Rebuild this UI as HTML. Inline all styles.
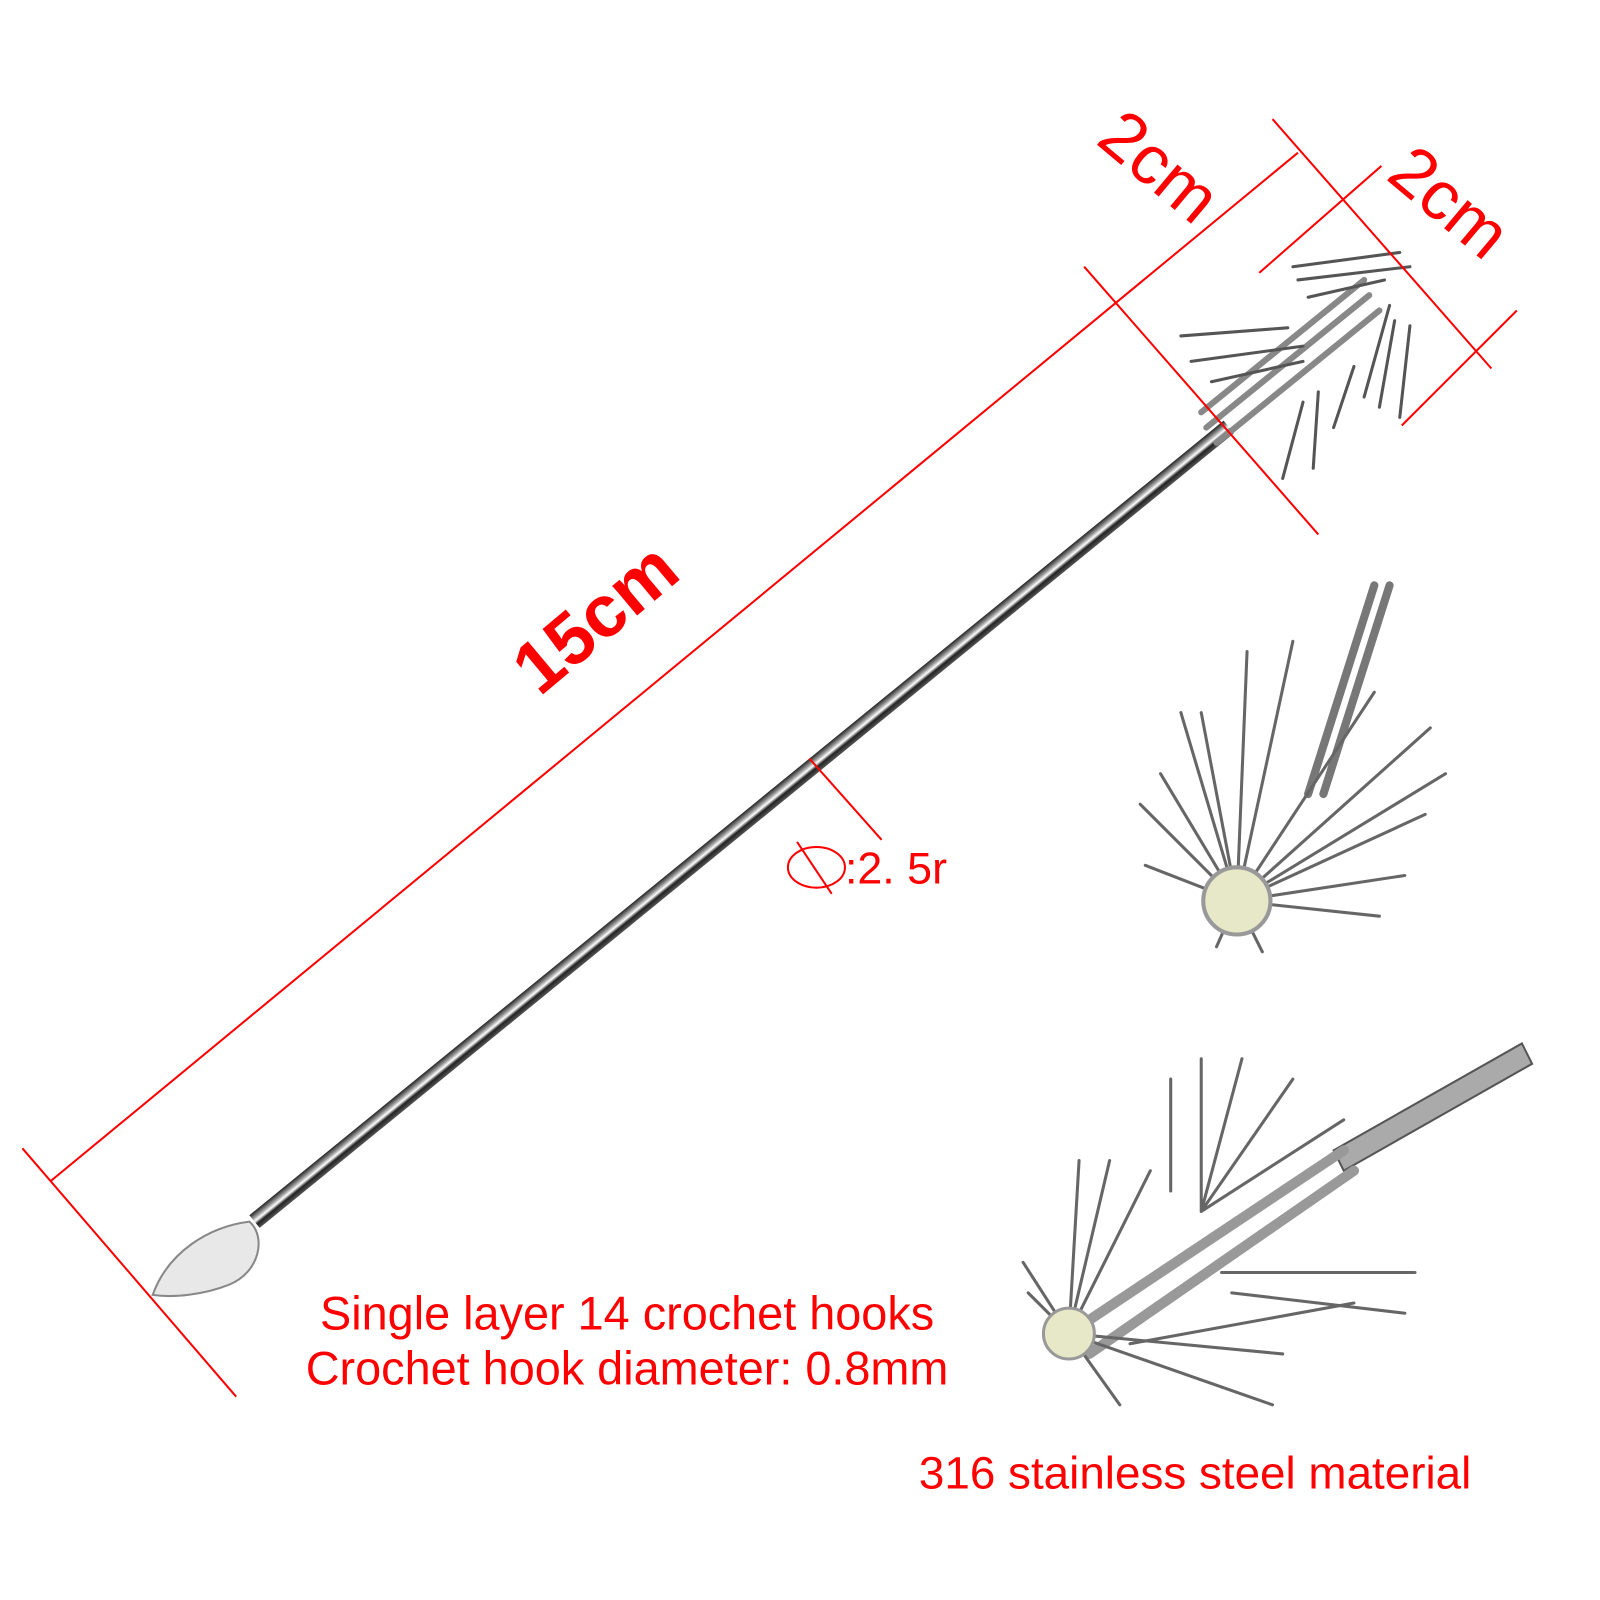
<!DOCTYPE html>
<html><head><meta charset="utf-8"><style>
html,body{margin:0;padding:0;background:#fff}
svg{display:block}
.t{font-family:"Liberation Sans",sans-serif;fill:#ff0000}
</style></head><body>
<svg width="1600" height="1600" viewBox="0 0 1600 1600" xmlns="http://www.w3.org/2000/svg">
<defs>
<linearGradient id="rod" x1="0" y1="0" x2="0" y2="1">
<stop offset="0" stop-color="#222"/><stop offset="0.3" stop-color="#999"/><stop offset="0.5" stop-color="#fff"/><stop offset="0.7" stop-color="#222"/><stop offset="1" stop-color="#555"/>
</linearGradient>
</defs>
<g transform="scale(1.018)">
<g transform="translate(250,1200) rotate(-39.2)">
<rect x="0" y="-8" width="1235" height="16" fill="url(#rod)"/>
</g>
<path d="M150,1272 C165,1230 205,1205 245,1200 C262,1215 255,1250 225,1262 C200,1272 170,1275 150,1272Z" fill="#e8e8e8" stroke="#888" stroke-width="2"/>
<g stroke="#555" stroke-width="3" fill="none" stroke-linecap="round">
<path d="M1185,420 L1345,290 M1195,435 L1355,305 M1180,405 L1340,275" stroke-width="6" stroke="#888"/>
<path d="M1270,262 L1375,248 M1275,275 L1385,262 M1285,292 L1360,275"/>
<path d="M1160,330 L1265,322 M1170,355 L1280,340 M1190,375 L1280,355"/>
<path d="M1280,395 L1260,470 M1295,385 L1290,460 M1330,360 L1310,420 M1370,315 L1355,400 M1385,320 L1375,410 M1365,300 L1340,390"/>
</g>
<g stroke="#666" stroke-width="3" fill="none" stroke-linecap="round">
<path d="M1365,575 L1300,780 M1350,575 L1285,780" stroke-width="8" stroke="#777"/>
<path d="M1215,885 L1180,700 M1215,885 L1225,640 M1215,885 L1270,630 M1215,885 L1350,680 M1215,885 L1405,715 M1215,885 L1420,760 M1215,885 L1400,800 M1215,885 L1380,860 M1215,885 L1355,900 M1215,885 L1140,760 M1215,885 L1120,790 M1215,885 L1125,850 M1215,885 L1160,700 M1215,885 L1195,930 M1215,885 L1240,935"/>
</g>
<circle cx="1215" cy="885" r="33" fill="#e7e8c8" stroke="#999" stroke-width="4"/>
<path d="M1310,1130 L1495,1025 L1505,1045 L1320,1150Z" fill="#aaa" stroke="#555" stroke-width="2"/>
<g stroke="#666" stroke-width="3" fill="none" stroke-linecap="round">
<path d="M1050,1310 L1320,1130 M1070,1330 L1330,1150" stroke-width="10" stroke="#999"/>
<path d="M1050,1310 L1010,1270 M1050,1310 L1060,1140 M1050,1310 L1090,1140 M1050,1310 L1130,1150 M1050,1310 L1260,1330 M1050,1310 L1250,1380 M1050,1310 L1100,1380 M1050,1310 L1005,1240"/>
<path d="M1180,1190 L1180,1040 M1180,1190 L1220,1040 M1180,1190 L1270,1060 M1180,1190 L1320,1100 M1200,1250 L1390,1250 M1210,1270 L1380,1290 M1150,1170 L1150,1060 M1110,1320 L1330,1280"/>
</g>
<circle cx="1050" cy="1310" r="25" fill="#e7e8c8" stroke="#999" stroke-width="3"/>
<g stroke="#ff0000" stroke-width="2" fill="none">
<line x1="50" y1="1160" x2="1275" y2="150"/>
<line x1="22" y1="1128" x2="232" y2="1372"/>
<line x1="1065" y1="262" x2="1295" y2="525"/>
<line x1="1250" y1="117" x2="1465" y2="362"/>
<line x1="1237" y1="268" x2="1357" y2="163"/>
<line x1="1377" y1="418" x2="1490" y2="305"/>
<line x1="795" y1="745" x2="866" y2="825"/>
<ellipse cx="802" cy="852" rx="28" ry="20"/>
<line x1="783" y1="827" x2="817" y2="878"/>
</g>
<text class="t" x="0" y="0" font-size="72" font-weight="bold" transform="translate(530,685) rotate(-40)">15cm</text>
<text class="t" x="0" y="0" font-size="68" transform="translate(1075,140) rotate(40)">2cm</text>
<text class="t" x="0" y="0" font-size="68" transform="translate(1360,175) rotate(40)">2cm</text>
<text class="t" x="830" y="868" font-size="44">:2. 5r</text>
<text class="t" x="616" y="1306" font-size="46" text-anchor="middle">Single layer 14 crochet hooks</text>
<text class="t" x="616" y="1360" font-size="46" text-anchor="middle">Crochet hook diameter: 0.8mm</text>
<text class="t" x="1174" y="1462" font-size="45" text-anchor="middle">316 stainless steel material</text>
</g>
</svg>
</body></html>
